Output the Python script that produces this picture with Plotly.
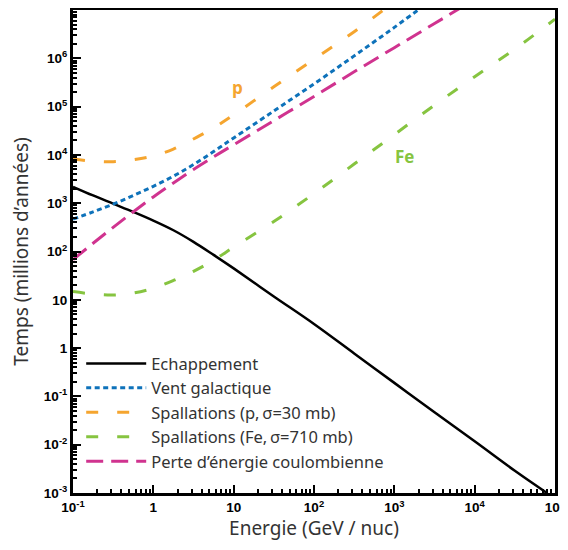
import plotly.graph_objects as go

# ---- data (log10 of energy in GeV/nuc, log10 of time in Myr) ----
logE_esc = [-1, -0.75, -0.5, -0.25, 0, 0.25, 0.5, 0.75, 1, 1.5, 2, 2.5, 3, 3.5, 4, 4.5, 4.9]
logT_esc = [3.34, 3.16, 2.99, 2.82, 2.64, 2.44, 2.20, 1.93, 1.65, 1.07, 0.50, -0.11, -0.72, -1.33, -1.93, -2.54, -3.0]

logE_wind = [-1, -0.75, -0.5, -0.25, 0, 0.25, 0.5, 0.75, 1, 1.5, 2, 2.5, 3, 3.5]
logT_wind = [2.67, 2.82, 2.98, 3.16, 3.35, 3.56, 3.80, 4.07, 4.35, 4.91, 5.47, 6.05, 6.64, 7.25]

logE_p = [-1, -0.75, -0.5, -0.25, 0, 0.25, 0.5, 0.75, 1, 1.5, 2, 2.5, 3]
logT_p = [3.915, 3.87, 3.86, 3.90, 3.98, 4.12, 4.33, 4.56, 4.83, 5.41, 5.98, 6.55, 7.17]

logE_fe = [-1, -0.75, -0.5, -0.25, 0, 0.25, 0.5, 0.75, 1, 1.5, 2, 2.5, 3, 3.5, 4, 4.5, 5]
logT_fe = [1.17, 1.12, 1.10, 1.14, 1.24, 1.40, 1.59, 1.82, 2.09, 2.62, 3.20, 3.81, 4.42, 5.03, 5.62, 6.19, 6.81]

logE_coul = [-1, -0.75, -0.5, -0.25, 0, 0.25, 0.5, 0.75, 1, 1.5, 2, 2.5, 3, 3.5, 4]
logT_coul = [1.83, 2.17, 2.50, 2.82, 3.13, 3.42, 3.70, 3.96, 4.21, 4.71, 5.21, 5.72, 6.22, 6.72, 7.22]

names = ["Echappement", "Vent galactique", "Spallations (p,\u2009\u03c3=30 mb)",
         "Spallations (Fe,\u2009\u03c3=710 mb)", "Perte d\u2019\u00e9nergie coulombienne"]

x_tickvals = [0.1, 1, 10, 100, 1e3, 1e4, 1e5]
x_ticktext = ["10<sup>-1</sup>", "1", "10", "10<sup>2</sup>", "10<sup>3</sup>", "10<sup>4</sup>", "10<sup>5</sup>"]
y_tickvals = [1e-3, 1e-2, 1e-1, 1, 10, 100, 1e3, 1e4, 1e5, 1e6]
y_ticktext = ["10<sup>-3</sup>", "10<sup>-2</sup>", "10<sup>-1</sup>", "1", "10", "10<sup>2</sup>",
              "10<sup>3</sup>", "10<sup>4</sup>", "10<sup>5</sup>", "10<sup>6</sup>"]

label_p = ("p", 1.05, 5.39)
label_fe = ("Fe", 3.13, 3.96)

BLACK = "#000000"
BLUE = "#0E72BA"
ORANGE = "#F5A52F"
GREEN = "#86C440"
MAGENTA = "#D0338F"

def tolin(v):
    return [10 ** a for a in v]

fig = go.Figure()
series = [
    (logE_esc, logT_esc, names[0], BLACK, "solid", 2.5),
    (logE_wind, logT_wind, names[1], BLUE, "5px,3.5px", 3),
    (logE_p, logT_p, names[2], ORANGE, "12px,19px", 3),
    (logE_fe, logT_fe, names[3], GREEN, "12px,19px", 3),
    (logE_coul, logT_coul, names[4], MAGENTA, "17px,8px", 3),
]
for lx, ly, nm, col, dash, w in series:
    fig.add_trace(go.Scatter(x=tolin(lx), y=tolin(ly), mode="lines", name=nm,
                             line=dict(color=col, dash=dash, width=w, shape="spline")))

def minor_vals(lo, hi):
    vals = []
    for d in range(lo, hi):
        for m in range(2, 10):
            vals.append(m * 10 ** d)
    return vals

def bold(lst):
    return ["<b>" + t + "</b>" for t in lst]

tickfont = dict(family="Liberation Sans", size=13.5, color="black")
titlefont = dict(family="Noto Sans", size=19, color="#333333")

fig.update_xaxes(type="log", range=[-1, 5], showline=True, linewidth=3, linecolor="black",
                 mirror=True, ticks="inside", ticklen=8, tickwidth=2, tickcolor="black",
                 tickvals=x_tickvals, ticktext=bold(x_ticktext), tickfont=tickfont,
                 showgrid=False, zeroline=False, automargin=False,
                 minor=dict(ticks="inside", ticklen=4, tickwidth=1.5, tickcolor="black",
                            tickvals=minor_vals(-1, 5), showgrid=False),
                 title=dict(text="Energie (GeV / nuc)", font=titlefont, standoff=5))
fig.update_yaxes(type="log", range=[-3, 7], showline=True, linewidth=3, linecolor="black",
                 mirror=True, ticks="inside", ticklen=8, tickwidth=2, tickcolor="black",
                 tickvals=y_tickvals, ticktext=bold(y_ticktext), tickfont=tickfont,
                 showgrid=False, zeroline=False, automargin=False,
                 minor=dict(ticks="inside", ticklen=4, tickwidth=1.5, tickcolor="black",
                            tickvals=minor_vals(-3, 7), showgrid=False),
                 title=dict(text="Temps (millions d\u2019ann\u00e9es)", font=titlefont, standoff=12))

for txt, lx, ly, col in [(label_p[0], label_p[1], label_p[2], ORANGE),
                         (label_fe[0], label_fe[1], label_fe[2], GREEN)]:
    fig.add_annotation(x=lx, y=ly, xref="x", yref="y", text="<b>" + txt + "</b>", showarrow=False,
                       font=dict(family="Open Sans", size=17, color=col))

# the page body has an 8px default margin, so the figure is 8px smaller
fig.update_layout(
    width=560, height=542,
    margin=dict(l=65, r=13, t=2, b=57),
    paper_bgcolor="white", plot_bgcolor="white",
    showlegend=True,
    legend=dict(x=0.017, y=0.304, xanchor="left", yanchor="top", bgcolor="rgba(0,0,0,0)",
                font=dict(family="Noto Sans", size=16.5, color="#333333"),
                itemwidth=60, tracegroupgap=0),
)

fig.write_html("out.html")
